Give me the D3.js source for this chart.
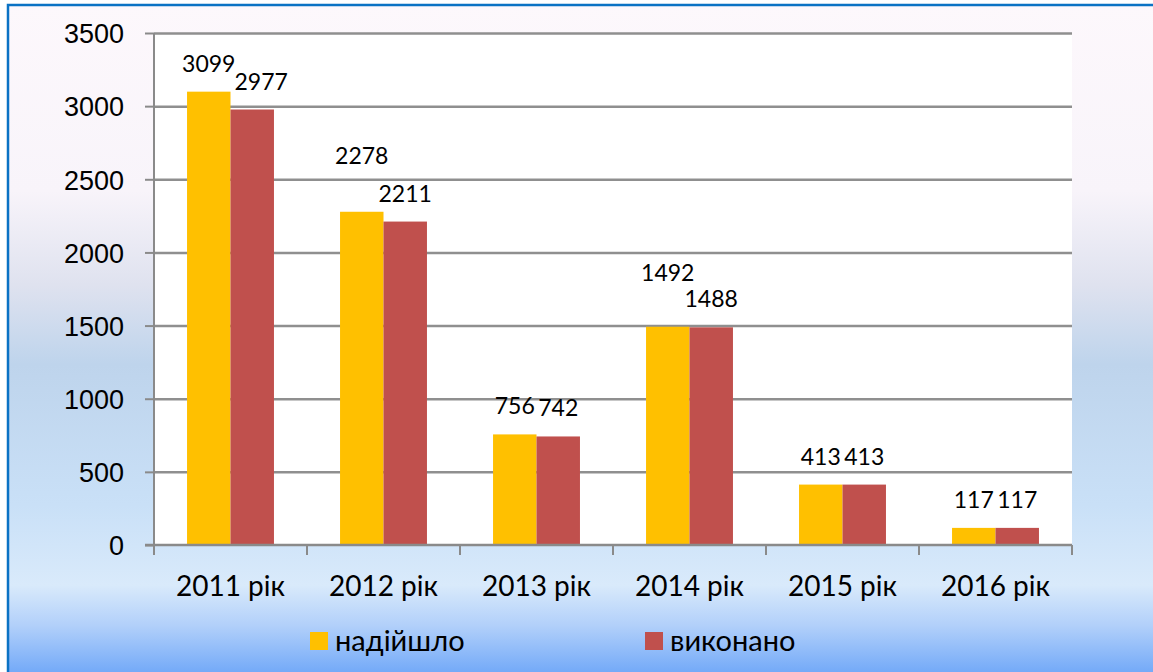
<!DOCTYPE html>
<html>
<head>
<meta charset="utf-8">
<script src="https://cdn.jsdelivr.net/npm/d3@7"></script>
<style>
	html, body { margin: 0; padding: 0; background: #fff; }
	svg { display: block; font-family: Lato, 'Open Sans', 'Noto Sans', sans-serif; }
</style>
</head>
<body>
<svg id="chart"></svg>
<script>
// chart data
const categories = ['2011 рік', '2012 рік', '2013 рік', '2014 рік', '2015 рік', '2016 рік']
const received = [3099, 2278, 756, 1492, 413, 117]
const done = [2977, 2211, 742, 1488, 413, 117]
const seriesNames = ['надійшло', 'виконано']
const yTicks = [0, 500, 1000, 1500, 2000, 2500, 3000, 3500]

// labels that were dragged by hand in the original (key: series-category)
const labelNudge = { '0-1': { dy: -28 }, '0-3': { dy: -26 }, '1-0': { dx: 9 } }

const colors = ['#FFC000', '#C0504D']

const outerWidth = 1153
const outerHeight = 672
const margin = { top: 33, right: 81, bottom: 127, left: 154 }
const width = outerWidth - margin.left - margin.right
const height = outerHeight - margin.top - margin.bottom

const root = d3.select('#chart')
	.attr('width', outerWidth)
	.attr('height', outerHeight)

// background gradient
const grad = root.append('defs').append('linearGradient')
	.attr('id', 'bg')
	.attr('x1', 0).attr('y1', 0).attr('x2', 0).attr('y2', 1)
const stops = [
	[0, '#fdf8fc'], [0.28, '#f8f4fa'], [0.42, '#dfe2ef'], [0.54, '#bed4ec'],
	[0.75, '#c9e0f7'], [0.87, '#d9eafb'], [0.93, '#b2d0fa'], [1, '#74aaf8'],
]
grad.selectAll('stop').data(stops).join('stop')
	.attr('offset', d => d[0])
	.attr('stop-color', d => d[1])

root.append('rect')
	.attr('x', 7).attr('y', 4)
	.attr('width', outerWidth - 7).attr('height', outerHeight - 4)
	.attr('fill', 'url(#bg)')

// blue frame, only top and left edges are visible
root.append('path')
	.attr('d', `M8,${outerHeight} V5 H${outerWidth}`)
	.attr('fill', 'none')
	.attr('stroke', '#0a72c4')
	.attr('stroke-width', 2.5)

const svg = root.append('g')
	.attr('transform', `translate(${margin.left}, ${margin.top})`)

// scales
const x0 = d3.scaleBand()
	.domain(categories)
	.range([0, width])
	.paddingInner(0)

const x1 = d3.scaleBand()
	.domain([0, 1])
	.range([0, x0.bandwidth()])
	.paddingOuter(0.76)
	.paddingInner(0)

const y = d3.scaleLinear()
	.domain([0, 3500])
	.range([height, 0])

// plot area
svg.append('rect')
	.attr('width', width)
	.attr('height', height)
	.attr('fill', '#fff')

// grid lines
svg.append('g')
	.attr('class', 'grid')
	.call(d3.axisLeft(y)
		.tickValues(yTicks.slice(1))
		.tickSize(-width)
		.tickFormat('')
	)
	.call(g => g.select('.domain').remove())
	.call(g => g.selectAll('line')
		.attr('stroke', '#8f8f8f')
		.attr('stroke-width', 2.5))

// bars
const rows = categories.map((c, i) => ({ c, i, values: [received[i], done[i]] }))

svg.append('g')
	.selectAll('g')
	.data(rows)
	.join('g')
		.attr('transform', d => `translate(${x0(d.c)}, 0)`)
	.selectAll('rect')
	.data(d => d.values.map((v, s) => ({ v, s })))
	.join('rect')
		.attr('x', d => x1(d.s))
		.attr('y', d => y(d.v))
		.attr('width', x1.bandwidth())
		.attr('height', d => y(0) - y(d.v))
		.attr('fill', d => colors[d.s])

// y axis
svg.append('g')
	.attr('class', 'axis axis--y')
	.call(d3.axisLeft(y)
		.tickValues(yTicks)
		.tickFormat(d3.format('d'))
		.tickSize(9)
		.tickPadding(21)
	)
	.call(g => g.selectAll('line, path').attr('stroke', '#8a8a8a').attr('stroke-width', 2))
	.call(g => g.select('.domain').attr('d', `M0,${height}V0`))
	.call(g => g.selectAll('text')
		.attr('fill', '#000')
		.style('font-size', '27px')
		.attr('dy', '0.36em'))

// x axis
const xAxis = svg.append('g')
	.attr('class', 'axis axis--x')
	.attr('transform', `translate(0, ${height})`)

xAxis.append('path')
	.attr('d', `M-9,0H${width}`)
	.attr('stroke', '#8a8a8a')
	.attr('stroke-width', 2.5)

xAxis.selectAll('line')
	.data(d3.range(categories.length + 1))
	.join('line')
		.attr('x1', i => i * x0.step())
		.attr('x2', i => i * x0.step())
		.attr('y1', 0)
		.attr('y2', 10)
		.attr('stroke', '#8a8a8a')
		.attr('stroke-width', 2)

xAxis.selectAll('text')
	.data(categories)
	.join('text')
		.attr('x', d => x0(d) + x0.bandwidth() / 2)
		.attr('y', 51)
		.attr('text-anchor', 'middle')
		.style('font-size', '28px')
		.text(d => d)

// value labels
svg.append('g')
	.selectAll('text')
	.data(rows.flatMap(r => r.values.map((v, s) => ({ c: r.c, i: r.i, v, s }))))
	.join('text')
		.attr('x', d => x0(d.c) + x1(d.s) + x1.bandwidth() / 2 + ((labelNudge[`${d.s}-${d.i}`] || {}).dx || 0))
		.attr('y', d => y(d.v) - 20 + ((labelNudge[`${d.s}-${d.i}`] || {}).dy || 0))
		.attr('text-anchor', 'middle')
		.style('font-size', '23px')
		.text(d => d.v)

// legend
const legend = root.append('g')
	.attr('transform', 'translate(0, 641)')

const legendX = [310, 645]
const item = legend.selectAll('g')
	.data(seriesNames)
	.join('g')
		.attr('transform', (d, i) => `translate(${legendX[i]}, 0)`)

item.append('rect')
	.attr('y', -9)
	.attr('width', 18)
	.attr('height', 18)
	.attr('fill', (d, i) => colors[i])

item.append('text')
	.attr('x', 25)
	.attr('dy', '0.36em')
	.style('font-size', '29px')
	.text(d => d)
</script>
</body>
</html>
